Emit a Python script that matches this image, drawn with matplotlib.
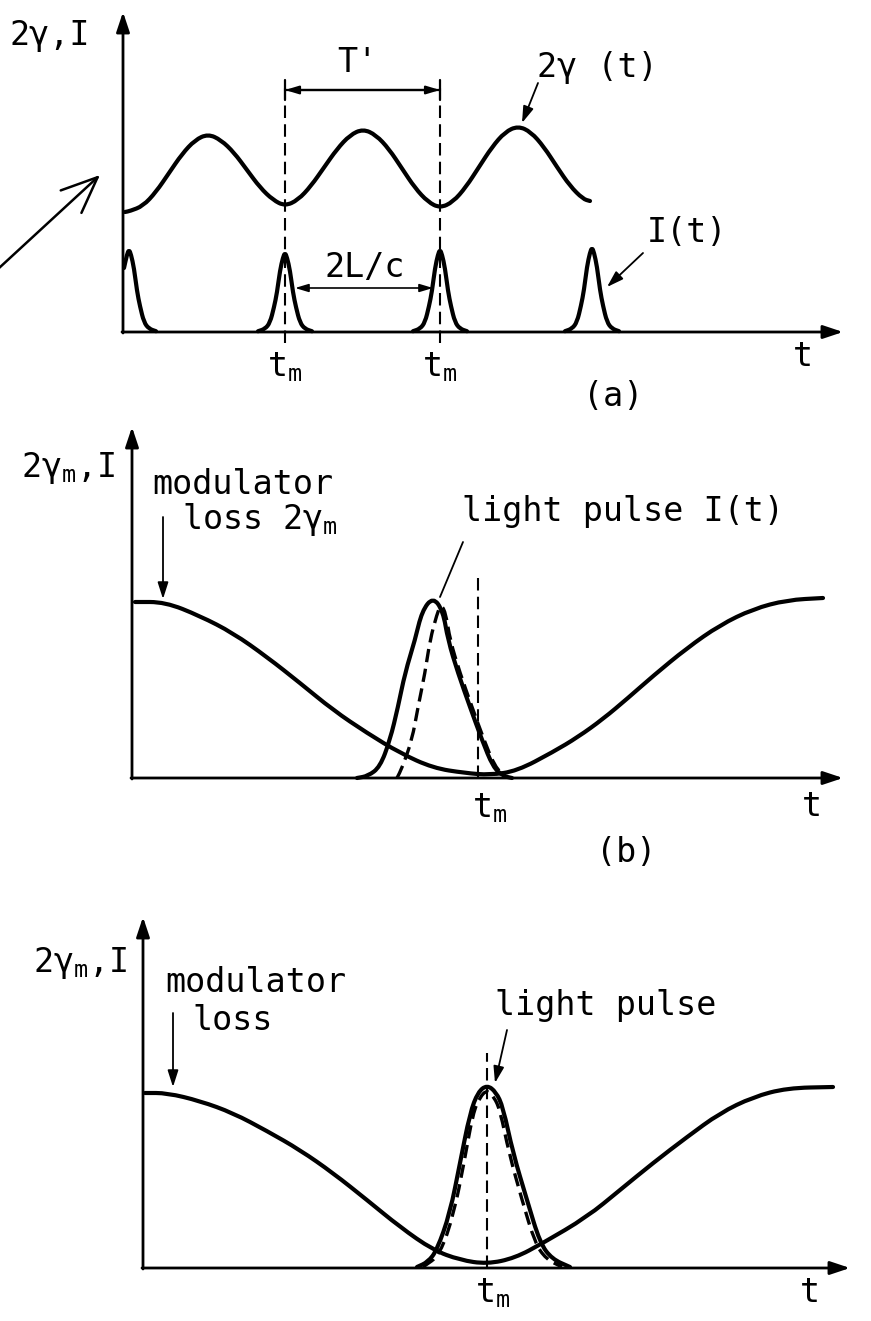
import matplotlib.pyplot as plt
import numpy as np
from matplotlib.patches import PathPatch
from matplotlib.path import Path

plt.rcParams["font.family"] = ["DejaVu Sans Mono", "DejaVu Sans"]
plt.rcParams["mathtext.fontset"] = "custom"
plt.rcParams["mathtext.rm"] = "DejaVu Sans Mono"
plt.rcParams["mathtext.it"] = "DejaVu Sans Mono"
plt.rcParams["mathtext.bf"] = "DejaVu Sans Mono:bold"

FIG_W, FIG_H = 871, 1321
FS = 24

# ---- (a) loss 2gamma(t) and pulse train I(t); t and value in units of 10 px
a_loss_t = [0.2, 0.7, 2.0, 3.3, 4.6, 5.9, 7.2, 8.5, 9.8, 11.1, 12.4, 13.7, 15.0, 16.2,
            17.5, 18.8, 20.1, 21.4, 22.7, 24.0, 25.3, 26.6, 27.9, 29.2, 30.5, 31.7,
            33.0, 34.3, 35.6, 36.9, 38.2, 39.5, 40.8, 42.1, 43.4, 44.7, 46.0, 46.7]
a_loss_v = [12.0, 12.1, 12.6, 14.0, 15.9, 17.8, 19.2, 19.8, 19.2, 17.95, 16.2, 14.45, 13.2, 12.6,
            13.2, 14.6, 16.45, 18.3, 19.7, 20.3, 19.7, 18.3, 16.35, 14.4, 13.0, 12.4,
            13.0, 14.5, 16.5, 18.5, 20.0, 20.6, 20.0, 18.5, 16.5, 14.6, 13.3, 13.1]
a_pulse_dt = [-2.7, -2.0, -1.5, -1.1, -0.8, -0.5, -0.2, 0.0, 0.2, 0.5, 0.8, 1.1, 1.5, 2.0, 2.7]
a_pulse_shape = [0.01, 0.04, 0.12, 0.32, 0.51, 0.8, 0.97, 1.03, 0.97, 0.8, 0.51, 0.32, 0.12, 0.04, 0.01]
a_pulse_t = [0.6, 16.2, 31.7, 46.9]
a_pulse_h = [8.0, 7.7, 8.0, 8.2]
a_tm = [16.2, 31.7]

# ---- (b) modulator loss 2gamma_m and a pulse arriving early
b_loss_t = [0.3, 3.3, 6.8, 10.1, 13.5, 16.8, 20.1, 23.5, 26.8, 30.1, 33.3, 35.8, 38.5,
            42.1, 44.6, 47.1, 49.6, 52.1, 55.5, 58.8, 62.1, 65.5, 69.1]
b_loss_v = [17.6, 17.6, 16.2, 14.5, 12.1, 9.5, 6.8, 4.5, 2.5, 1.0, 0.5, 0.3, 0.7,
            2.6, 4.1, 5.9, 8.0, 10.2, 13.0, 15.3, 16.9, 17.8, 18.0]
b_pulse_t = [22.5, 23.6, 24.8, 25.8, 26.6, 27.3, 28.3, 29.0, 30.1, 31.1, 31.6, 32.6,
             33.8, 35.0, 36.1, 37.1, 38.0]
b_pulse_v = [0.0, 0.2, 1.1, 3.8, 7.1, 10.5, 13.8, 16.7, 18.1, 16.7, 13.8, 10.5,
             7.1, 3.8, 1.1, 0.2, 0.0]
b_pulse2_t = [26.5, 27.0, 28.0, 28.6, 29.3, 29.8, 30.5, 30.9, 31.4, 31.8, 32.8, 34.0,
              35.2, 36.3, 37.3]
b_pulse2_v = [0.0, 1.0, 3.8, 7.1, 10.5, 13.8, 16.4, 17.4, 16.4, 13.8, 10.5, 7.1,
              3.8, 1.1, 0.2]
b_tm = 34.6

# ---- (c) pulse centred on the loss minimum
c_loss_t = [0.2, 2.4, 5.7, 9.0, 12.4, 15.7, 19.0, 22.4, 25.7, 29.0, 31.7, 34.4, 37.2,
            40.0, 44.4, 47.7, 51.0, 54.4, 57.7, 61.0, 64.4, 69.0]
c_loss_v = [17.5, 17.5, 16.7, 15.5, 13.7, 11.8, 9.5, 6.8, 4.1, 1.8, 0.8, 0.4, 1.0,
            2.5, 5.1, 7.8, 10.5, 13.1, 15.5, 17.1, 18.0, 18.1]
c_pulse_t = [27.4, 28.5, 29.4, 30.7, 31.7, 32.7, 33.5, 34.4, 35.3, 36.0, 37.0, 38.4,
             39.7, 40.9, 42.7]
c_pulse_v = [0.1, 0.6, 1.8, 5.5, 10.5, 15.5, 17.6, 18.3, 17.6, 16.1, 11.5, 6.8,
             2.5, 0.9, 0.1]
c_pulse2_t = [28.0, 29.7, 31.1, 32.1, 33.0, 33.7, 34.4, 35.1, 35.7, 36.6, 37.9, 39.2,
              40.3, 41.9]
c_pulse2_v = [0.1, 1.3, 5.5, 10.5, 15.5, 17.1, 17.8, 17.1, 15.8, 11.5, 6.8, 2.5,
              0.9, 0.1]
c_tm = 34.4

SOLID = dict(edgecolor="black", lw=3.0, capstyle="round", joinstyle="round")
DASHED = dict(edgecolor="black", lw=2.4, linestyle=(0, (4, 2)))
VDASH = dict(color="black", lw=1.5, linestyle=(0, (6, 3)))


def make_axes(fig, origin_px, top_px, bottom_px):
    ox, oy = origin_px
    ax = fig.add_axes([0, 1 - bottom_px / FIG_H, 1, (bottom_px - top_px) / FIG_H])
    ax.set_xlim(-ox / 10, (FIG_W - ox) / 10)
    ax.set_ylim((oy - bottom_px) / 10, (oy - top_px) / 10)
    ax.axis("off")
    return ax


def smooth_line(ax, t, v, **style):
    # quadratic bezier through the midpoints, read points act as control points
    pts = np.column_stack([t, v])
    mids = (pts[:-1] + pts[1:]) / 2
    verts = [pts[0], mids[0]]
    codes = [Path.MOVETO, Path.LINETO]
    for i in range(1, len(pts) - 1):
        verts += [pts[i], mids[i]]
        codes += [Path.CURVE3, Path.CURVE3]
    verts.append(pts[-1])
    codes.append(Path.LINETO)
    ax.add_patch(PathPatch(Path(verts, codes), fill=False, **style))


def axis_arrows(ax, x_end, y_end):
    style = dict(arrowstyle="-|>,head_length=0.6,head_width=0.2", lw=2.0, color="black",
                 shrinkA=0, shrinkB=0, mutation_scale=20)
    ax.annotate("", xy=(x_end, 0), xytext=(-0.1, 0), arrowprops=style)
    ax.annotate("", xy=(0, y_end), xytext=(0, -0.1), arrowprops=style)


def leader(ax, xy_from, xy_to, head=True):
    st = "-|>,head_length=0.5,head_width=0.16" if head else "-"
    ax.annotate("", xy=xy_to, xytext=xy_from,
                arrowprops=dict(arrowstyle=st, lw=1.3, color="black",
                                shrinkA=0, shrinkB=0, mutation_scale=20))


fig = plt.figure(figsize=(FIG_W / 100, FIG_H / 100), dpi=100)

# ---------------- panel (a)
ax = make_axes(fig, (123, 332), 0, 420)
axis_arrows(ax, 72.0, 32.0)
smooth_line(ax, a_loss_t, a_loss_v, **SOLID)
for c, h in zip(a_pulse_t, a_pulse_h):
    t = c + np.array(a_pulse_dt)
    v = h * np.array(a_pulse_shape)
    keep = t >= 0
    smooth_line(ax, t[keep], v[keep], **SOLID)
for tm in a_tm:
    ax.plot([tm, tm], [-1.1, 24.4], **VDASH)
    ax.text(tm, -3.5, r"t$_\mathrm{m}$", fontsize=FS, ha="center", va="center")
ax.annotate("", xy=(a_tm[1], 24.2), xytext=(a_tm[0], 24.2),
            arrowprops=dict(arrowstyle="|-|,widthA=0.35,widthB=0.35", lw=1.6, color="black",
                            shrinkA=0, shrinkB=0, mutation_scale=20))
ax.annotate("", xy=(a_tm[1], 24.2), xytext=(a_tm[0], 24.2),
            arrowprops=dict(arrowstyle="<|-|>,head_length=0.4,head_width=0.12", lw=1.6,
                            color="black", shrinkA=0, shrinkB=0, mutation_scale=20))
ax.text(23.4, 26.9, "T'", fontsize=FS, ha="center", va="center")
ax.annotate("", xy=(31.0, 4.4), xytext=(17.2, 4.4),
            arrowprops=dict(arrowstyle="<|-|>,head_length=0.4,head_width=0.12", lw=1.2,
                            color="black", shrinkA=0, shrinkB=0, mutation_scale=20))
ax.text(24.2, 6.5, "2L/c", fontsize=FS, ha="center", va="center")
ax.text(41.4, 26.5, "2γ (t)", fontsize=FS, ha="left", va="center")
leader(ax, (41.5, 24.9), (39.9, 20.9))
ax.text(52.4, 9.9, "I(t)", fontsize=FS, ha="left", va="center")
leader(ax, (52.0, 7.9), (48.4, 4.5))
ax.text(-3.3, 29.7, "2γ,I", fontsize=FS, ha="right", va="center")
ax.text(68.0, -2.5, "t", fontsize=FS, ha="center", va="center")
ax.text(49.0, -6.5, "(a)", fontsize=FS, ha="center", va="center")
ax.annotate("", xy=(-2.3, 15.7), xytext=(-12.5, 6.3),
            arrowprops=dict(arrowstyle="->,head_length=1.3,head_width=0.55", lw=1.8,
                            color="black", shrinkA=0, shrinkB=0, mutation_scale=20))

# ---------------- panel (b)
ax = make_axes(fig, (132, 778), 420, 870)
axis_arrows(ax, 71.1, 35.1)
smooth_line(ax, b_loss_t, b_loss_v, **SOLID)
smooth_line(ax, b_pulse_t, b_pulse_v, **SOLID)
smooth_line(ax, b_pulse2_t, b_pulse2_v, **DASHED)
ax.plot([b_tm, b_tm], [0, 20.5], **VDASH)
ax.text(35.8, -3.0, r"t$_\mathrm{m}$", fontsize=FS, ha="center", va="center")
ax.text(-1.7, 31.0, r"2γ$_\mathrm{m}$,I", fontsize=FS, ha="right", va="center")
ax.text(2.0, 29.3, "modulator", fontsize=FS, ha="left", va="center")
ax.text(5.0, 25.8, r"loss 2γ$_\mathrm{m}$", fontsize=FS, ha="left", va="center")
leader(ax, (3.1, 26.1), (3.1, 17.9))
ax.text(33.0, 26.6, "light pulse I(t)", fontsize=FS, ha="left", va="center")
leader(ax, (33.1, 23.6), (30.8, 18.1), head=False)
ax.text(68.0, -2.9, "t", fontsize=FS, ha="center", va="center")
ax.text(49.4, -7.5, "(b)", fontsize=FS, ha="center", va="center")

# ---------------- panel (c)
ax = make_axes(fig, (143, 1268), 870, 1321)
axis_arrows(ax, 70.7, 35.1)
smooth_line(ax, c_loss_t, c_loss_v, **SOLID)
smooth_line(ax, c_pulse_t, c_pulse_v, **SOLID)
smooth_line(ax, c_pulse2_t, c_pulse2_v, **DASHED)
ax.plot([c_tm, c_tm], [0, 21.5], **VDASH)
ax.text(35.0, -2.5, r"t$_\mathrm{m}$", fontsize=FS, ha="center", va="center")
ax.text(-1.6, 30.5, r"2γ$_\mathrm{m}$,I", fontsize=FS, ha="right", va="center")
ax.text(2.2, 28.5, "modulator", fontsize=FS, ha="left", va="center")
ax.text(4.9, 24.8, "loss", fontsize=FS, ha="left", va="center")
leader(ax, (3.0, 25.5), (3.0, 18.1))
ax.text(35.2, 26.3, "light pulse", fontsize=FS, ha="left", va="center")
leader(ax, (36.4, 23.8), (35.2, 18.5))
ax.text(66.7, -2.5, "t", fontsize=FS, ha="center", va="center")

fig.savefig("out.png", dpi=100)
